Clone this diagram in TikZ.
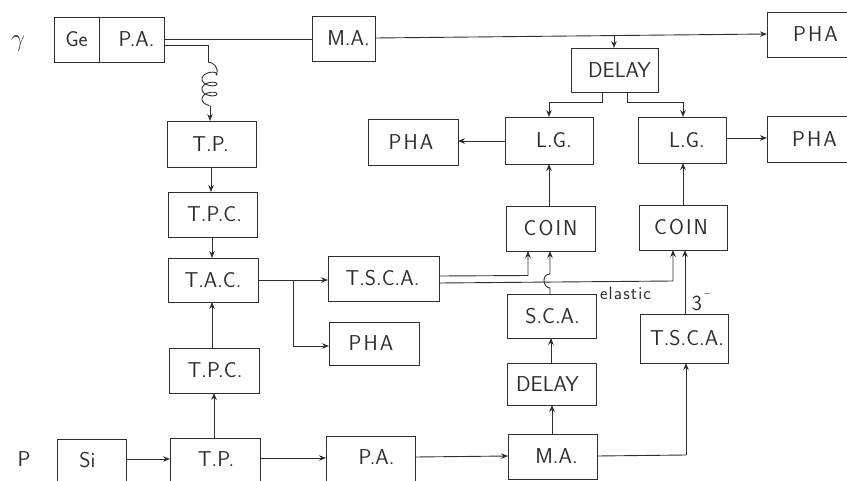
\documentclass[tikz,border=0pt]{standalone}
\usetikzlibrary{arrows.meta,calc}
\definecolor{ink}{gray}{0.18}
\tikzset{
  boxnode/.style={draw=ink,line width=1pt,rectangle,inner sep=0pt,outer sep=0pt,text=ink,font=\sffamily\fontsize{21.5}{24}\selectfont},
  wire/.style={draw=ink,line width=0.9pt},
  conn/.style={wire,-{Stealth[length=7pt,width=5.5pt]}},
  tag/.style={inner sep=0pt,text=ink,font=\sffamily\fontsize{21.5}{24}\selectfont}
}
% [text shift], name, left, top, right, bottom, text
\newcommand{\bx}[7][0]{\node[boxnode,minimum width={(#5-#3)*1pt},minimum height={(#6-#4)*1pt}] (#2) at ({(#3+#5)/2},{(#4+#6)/2}) {\hspace*{\dimexpr #1pt*2\relax}#7};}
\newcommand{\PHA}{P\kern2pt H\kern2pt A}
\newcommand{\COIN}{C\kern2pt O\kern2pt I\kern2pt N}
\begin{document}
\begin{tikzpicture}[x=1pt,y=-1pt]
\clip (0,0) rectangle (847,480);
\bx{ge}{54}{17}{99}{62}{Ge}
\bx[5]{pa}{99}{17}{164}{62}{P.A.}
\bx[5]{ma}{312}{16}{375}{61}{M.A.}
\bx[7]{phaa}{767}{12}{850}{57}{\PHA}
\bx[5]{dl}{571}{48}{658}{92}{DELAY}
\bx[5]{lga}{505}{117}{593}{164}{L.G.}
\bx[5]{lgb}{638}{117}{726}{163}{L.G.}
\bx[6]{phab}{767}{116}{850}{162}{\PHA}
\bx[-2]{phac}{368}{119}{458}{165}{\PHA}
\bx[-1]{tp}{167}{121}{256}{167}{T.P.}
\bx[2]{tpc}{168}{192}{257}{237}{T.P.C.}
\bx{tac}{168}{258}{258}{302}{T.A.C.}
\bx[-1]{tsca}{328}{256}{439}{301}{T.S.C.A.}
\bx[-3]{phad}{329}{322}{419}{365}{\PHA}
\bx[1]{tpcb}{169}{348}{259}{393}{T.P.C.}
\bx[-4]{si}{57}{439}{126}{481}{Si}
\bx[1]{tpb}{170}{438}{260}{484}{\raisebox{4pt}{T.P.}}
\bx[6]{pab}{326}{436}{415}{481}{\raisebox{3pt}{P.A.}}
\bx[4]{mab}{508}{434}{597}{479}{M.A.}
\bx[-4]{dlb}{507}{363}{596}{405}{DELAY}
\bx[1]{sca}{507}{294}{596}{338}{S.C.A.}
\bx{coa}{506}{206}{595}{251}{\COIN}
\bx[-2]{cob}{639}{205}{727}{250}{\COIN}
\bx[3]{tscb}{640}{314}{728}{363}{T.S.C.A.}
\node[tag] (gam) at (18,44) {\fontsize{26}{26}\selectfont$\gamma$};
\node[tag] (plab) at (24,459) {P};
\node[tag,font=\sffamily\fontsize{18}{20}\selectfont] (ela) at (625.5,293) {e\kern1.2pt l\kern1.2pt a\kern1.2pt s\kern1.2pt t\kern1.2pt i\kern1.2pt c};
\node[tag] (three) at (697,303) {3};
\node[tag,font=\sffamily\fontsize{10}{10}\selectfont] (minus) at (707,295) {--};
% gamma branch
\draw[wire] (pa.east |- 0,39) -- (ma.west |- 0,39);
\coordinate (cta) at (208,62);
\coordinate (ctb) at (210,106);
\draw[wire] (pa.east |- 0,45) -- (208,45) -- (cta);
\draw[wire] (cta) .. controls (213,62) and (220,68) .. (216,75);
\draw[wire,smooth,samples=140,domain=-30:990,variable=\t] plot ({209.5+7.5*cos(\t)},{74+0.0278*\t-4*sin(\t)});
\draw[conn] (ctb) -- (tp.north -| ctb);
\draw[conn] (ma.east |- 0,38) -- (phaa.west |- 0,34);
\coordinate (bra) at (614,35);
\draw[conn] (bra) -- (dl.north -| bra);
\draw[wire] (602,92) -- (602,102) -- (549,102);
\draw[conn] (549,102) -- (lga.north -| 549,0);
\draw[wire] (627,92) -- (627,102) -- (683,102);
\draw[conn] (683,102) -- (lgb.north -| 683,0);
\draw[conn] (lgb.east |- 0,138) -- (phab.west |- 0,138);
\draw[conn] (lga.west |- 0,141) -- (phac.east |- 0,141);
\draw[conn] (coa.north -| 549,0) -- (lga.south -| 549,0);
\draw[conn] (cob.north -| 683,0) -- (lgb.south -| 683,0);
% T.S.C.A. to coincidences
\draw[conn] (tsca.east |- 0,276) -- (528,275.5) -- (coa.south -| 528,0);
\draw[conn] (tsca.east |- 0,283) -- (673,281) -- (cob.south -| 673,0);
\draw[conn] (sca.north -| 550,0) -- (550,288) .. controls (543,288) and (541,274) .. (550,274) -- (coa.south -| 550,0);
\draw[conn] (tscb.north -| 685,0) -- (cob.south -| 685,0);
\draw[wire] (mab.east |- 0,456) -- (686,455);
\draw[conn] (686,455) -- (tscb.south -| 686,0);
\draw[conn] (mab.north -| 552,0) -- (dlb.south -| 552,0);
\draw[conn] (dlb.north -| 551,0) -- (sca.south -| 551,0);
\draw[conn] (pab.east |- 0,457) -- (mab.west |- 0,456);
\draw[conn] (tpb.east |- 0,458) -- (pab.west |- 0,458);
\draw[conn] (si.east |- 0,459) -- (tpb.west |- 0,459);
\draw[conn] (tpb.north -| 214,0) -- (tpcb.south -| 214,0);
\draw[conn] (tpcb.north -| 212,0) -- (tac.south -| 212,0);
\draw[conn] (tpc.south -| 212,0) -- (tac.north -| 212,0);
\draw[conn] (tp.south -| 211,0) -- (tpc.north -| 211,0);
\draw[conn] (tac.east |- 0,280) -- (tsca.west |- 0,280);
\coordinate (brb) at (293,280);
\draw[wire] (brb) -- (293,346);
\draw[conn] (293,346) -- (phad.west |- 0,346);
\end{tikzpicture}
\end{document}
